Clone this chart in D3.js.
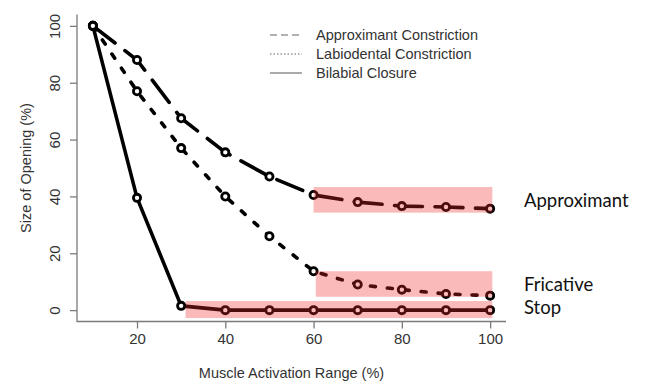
<!DOCTYPE html>
<html>
<head>
<meta charset="utf-8">
<script src="https://cdn.jsdelivr.net/npm/d3@7"></script>
<style>
  body { margin: 0; background: #fff; }
  svg { display: block; }
</style>
</head>
<body>
<div id="chart"></div>
<script>
// Muscle activation range (%) on the x axis
const activation = [10, 20, 30, 40, 50, 60, 70, 80, 90, 100];

// Size of opening (%) for each constriction type
const approximant = [100, 88, 67.5, 55.5, 47, 40.5, 38, 36.6, 36.3, 35.7];
const labiodental = [100, 77, 57, 40, 26, 13.7, 9, 7.2, 5.7, 5.1];
const bilabial = [100, 39.5, 1.5, 0, 0, 0, 0, 0, 0, 0];

const seriesNames = ["Approximant Constriction", "Labiodental Constriction", "Bilabial Closure"];
const xTicks = [20, 40, 60, 80, 100];
const yTicks = [0, 20, 40, 60, 80, 100];

// shaded regions: [x0, x1, y0, y1] in data units, plus the label at the right
const regionLabels = ["Approximant", "Fricative", "Stop"];
const regionX = [[60, 100.5], [60.5, 100.5], [31, 100.5]];
const regionY = [[34.3, 43.3], [4.7, 13.7], [-2.8, 3.2]];
const labelY = [38.5, 9, 0.8];

const width = 660, height = 381;

const svg = d3.select("#chart").append("svg")
  .attr("width", width)
  .attr("height", height);

const x = d3.scaleLinear().domain([6.4, 103.6]).range([77, 506]);
const y = d3.scaleLinear().domain([-4, 104]).range([321.5, 14.5]);

const axisColor = "#7a7a7a";
const textColor = "#333";

// box (bty = "l")
svg.append("path")
  .attr("d", `M${x.range()[0]},${y.range()[1]}V${y.range()[0]}H${x.range()[1]}`)
  .attr("fill", "none")
  .attr("stroke", axisColor)
  .attr("stroke-width", 1.3);

// x axis
const xAxis = svg.append("g")
  .attr("transform", `translate(0,${y.range()[0]})`)
  .call(d3.axisBottom(x).tickValues(xTicks).tickSize(7).tickPadding(5));
xAxis.select(".domain").remove();
xAxis.selectAll("line").attr("stroke", axisColor).attr("stroke-width", 1.3);
xAxis.selectAll("text")
  .attr("fill", textColor)
  .style("font-family", "Liberation Sans, Arial, sans-serif")
  .style("font-size", "15px");

// y axis with rotated labels
const yAxis = svg.append("g")
  .attr("transform", `translate(${x.range()[0]},0)`)
  .call(d3.axisLeft(y).tickValues(yTicks).tickSize(7));
yAxis.select(".domain").remove();
yAxis.selectAll("line").attr("stroke", axisColor).attr("stroke-width", 1.3);
yAxis.selectAll("text")
  .attr("x", null).attr("dy", null)
  .attr("transform", "translate(-17,0) rotate(-90)")
  .attr("text-anchor", "middle")
  .attr("fill", textColor)
  .style("font-family", "Liberation Sans, Arial, sans-serif")
  .style("font-size", "15px");

// axis titles
svg.append("text")
  .attr("x", (x.range()[0] + x.range()[1]) / 2)
  .attr("y", 378)
  .attr("text-anchor", "middle")
  .attr("fill", textColor)
  .style("font-family", "Liberation Sans, Arial, sans-serif")
  .style("font-size", "14.5px")
  .text("Muscle Activation Range (%)");

svg.append("text")
  .attr("transform", `translate(31,${(y.range()[0] + y.range()[1]) / 2}) rotate(-90)`)
  .attr("text-anchor", "middle")
  .attr("fill", textColor)
  .style("font-family", "Liberation Sans, Arial, sans-serif")
  .style("font-size", "14.5px")
  .text("Size of Opening (%)");

// data lines
const series = [
  { values: approximant, dash: "28,12.5", legendDash: "7,4" },
  { values: labiodental, dash: "5,12", legendDash: "1.5,2" },
  { values: bilabial, dash: null, legendDash: null }
];

const line = d3.line()
  .x((d, i) => x(activation[i]))
  .y(d => y(d));

const lines = svg.append("g").attr("class", "lines");
series.forEach(s => {
  lines.append("path")
    .datum(s.values)
    .attr("d", line)
    .attr("fill", "none")
    .attr("stroke", "#000")
    .attr("stroke-width", 3.6)
    .attr("stroke-linecap", "round")
    .attr("stroke-linejoin", "round")
    .attr("stroke-dasharray", s.dash);
});

// points
series.forEach(s => {
  lines.append("g").selectAll("circle")
    .data(s.values)
    .enter().append("circle")
    .attr("cx", (d, i) => x(activation[i]))
    .attr("cy", d => y(d))
    .attr("r", 3.6)
    .attr("fill", "#fff")
    .attr("stroke", "#000")
    .attr("stroke-width", 2.8);
});

// translucent red regions on top
svg.append("g").selectAll("rect")
  .data(regionLabels)
  .enter().append("rect")
  .attr("x", (d, i) => x(regionX[i][0]))
  .attr("width", (d, i) => x(regionX[i][1]) - x(regionX[i][0]))
  .attr("y", (d, i) => y(regionY[i][1]))
  .attr("height", (d, i) => y(regionY[i][0]) - y(regionY[i][1]))
  .attr("fill", "rgb(238,40,40)")
  .attr("fill-opacity", 0.32);

// region labels
svg.append("g").selectAll("text")
  .data(regionLabels)
  .enter().append("text")
  .attr("x", 524)
  .attr("y", (d, i) => y(labelY[i]))
  .attr("dy", "0.35em")
  .attr("fill", "#111")
  .style("font-family", "Lato, 'Open Sans', sans-serif")
  .style("font-size", "18.5px")
  .text(d => d);

// legend
const legend = svg.append("g").attr("class", "legend");
seriesNames.forEach((name, i) => {
  const ly = 35 + i * 19;
  legend.append("line")
    .attr("x1", 270).attr("x2", 302)
    .attr("y1", ly).attr("y2", ly)
    .attr("stroke", "#666")
    .attr("stroke-width", 1.1)
    .attr("stroke-dasharray", series[i].legendDash);
  legend.append("text")
    .attr("x", 316)
    .attr("y", ly)
    .attr("dy", "0.35em")
    .attr("fill", textColor)
    .style("font-family", "Liberation Sans, Arial, sans-serif")
    .style("font-size", "14.5px")
    .text(name);
});
</script>
</body>
</html>
